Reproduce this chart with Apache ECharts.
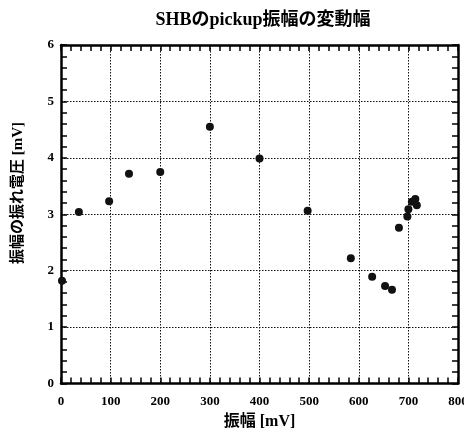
<!DOCTYPE html>
<html>
<head>
<meta charset="utf-8">
<script src="https://cdn.jsdelivr.net/npm/echarts@6/dist/echarts.min.js"></script>
<style>html,body{margin:0;padding:0;background:#fff;}#c{width:464px;height:435px;}</style>
</head>
<body>
<div id="c"></div>
<script>
var titleText = 'SHBのpickup振幅の変動幅';
var xName = '振幅 [mV]';
var yName = '振幅の振れ電圧 [mV]';
var xValues = [2, 36, 97, 137, 200, 300, 400, 497, 584, 627, 653, 667, 681, 698, 700, 707, 714, 717];
var yValues = [1.82, 3.04, 3.23, 3.72, 3.75, 4.55, 3.99, 3.06, 2.22, 1.89, 1.73, 1.66, 2.76, 2.96, 3.09, 3.22, 3.27, 3.16];
var xTicks = [0, 100, 200, 300, 400, 500, 600, 700, 800];
var yTicks = [0, 1, 2, 3, 4, 5, 6];

var serif = '"Liberation Serif", "Noto Sans CJK JP", serif';
var points = xValues.map(function (x, i) { return [x, yValues[i]]; });

var chart = echarts.init(document.getElementById('c'), null, {renderer: 'canvas'});
var tickStyle = {show: true, inside: true, length: 6, lineStyle: {color: '#000', width: 1.5}};
var minorStyle = {show: true, splitNumber: 5, length: 6, lineStyle: {color: '#000', width: 1.5}};
var lineStyle = {show: true, onZero: false, lineStyle: {color: '#000', width: 2.5}};
var gridLine = {show: true, lineStyle: {color: '#111', width: 1, type: [1.5, 1.5]}};

chart.setOption({
  animation: false,
  backgroundColor: '#fff',
  title: {
    text: titleText,
    left: 258,
    textAlign: 'center',
    top: 6,
    textStyle: {fontFamily: serif, fontSize: 18, fontWeight: 'bold', color: '#000'}
  },
  grid: {left: 61, right: 6, top: 45, bottom: 51.5, containLabel: false, outerBoundsMode: 'none'},
  xAxis: [{
    type: 'value', min: xTicks[0], max: xTicks[xTicks.length - 1], interval: 100,
    position: 'bottom',
    name: xName, nameLocation: 'middle', nameGap: 30,
    nameTextStyle: {fontFamily: serif, fontSize: 16, fontWeight: 'bold', color: '#000'},
    axisLine: lineStyle, axisTick: tickStyle, minorTick: minorStyle,
    splitLine: gridLine,
    axisLabel: {show: true, margin: 12, fontFamily: serif, fontSize: 13, fontWeight: 'bold', color: '#000', showMaxLabel: true, hideOverlap: false}
  }, {
    type: 'value', min: xTicks[0], max: xTicks[xTicks.length - 1], interval: 100,
    position: 'top',
    axisLine: lineStyle, axisTick: tickStyle, minorTick: minorStyle,
    splitLine: {show: false}, axisLabel: {show: false}
  }],
  yAxis: [{
    type: 'value', min: yTicks[0], max: yTicks[yTicks.length - 1], interval: 1,
    position: 'left',
    axisLine: lineStyle, axisTick: tickStyle, minorTick: minorStyle,
    splitLine: gridLine,
    axisLabel: {show: true, margin: 7, fontFamily: serif, fontSize: 13, fontWeight: 'bold', color: '#000'}
  }, {
    type: 'value', min: yTicks[0], max: yTicks[yTicks.length - 1], interval: 1,
    position: 'right',
    axisLine: lineStyle, axisTick: tickStyle, minorTick: minorStyle,
    splitLine: {show: false}, axisLabel: {show: false}
  }],
  graphic: [{
    type: 'text',
    x: 18, y: 193,
    rotation: Math.PI / 2,
    style: {
      text: yName, fill: '#000',
      font: 'bold 15px ' + serif,
      align: 'center', verticalAlign: 'middle'
    }
  }],
  series: [{
    type: 'scatter',
    xAxisIndex: 0, yAxisIndex: 0,
    data: points,
    symbol: 'circle', symbolSize: 8,
    itemStyle: {color: '#111', opacity: 1},
    clip: false
  }]
});
</script>
</body>
</html>
